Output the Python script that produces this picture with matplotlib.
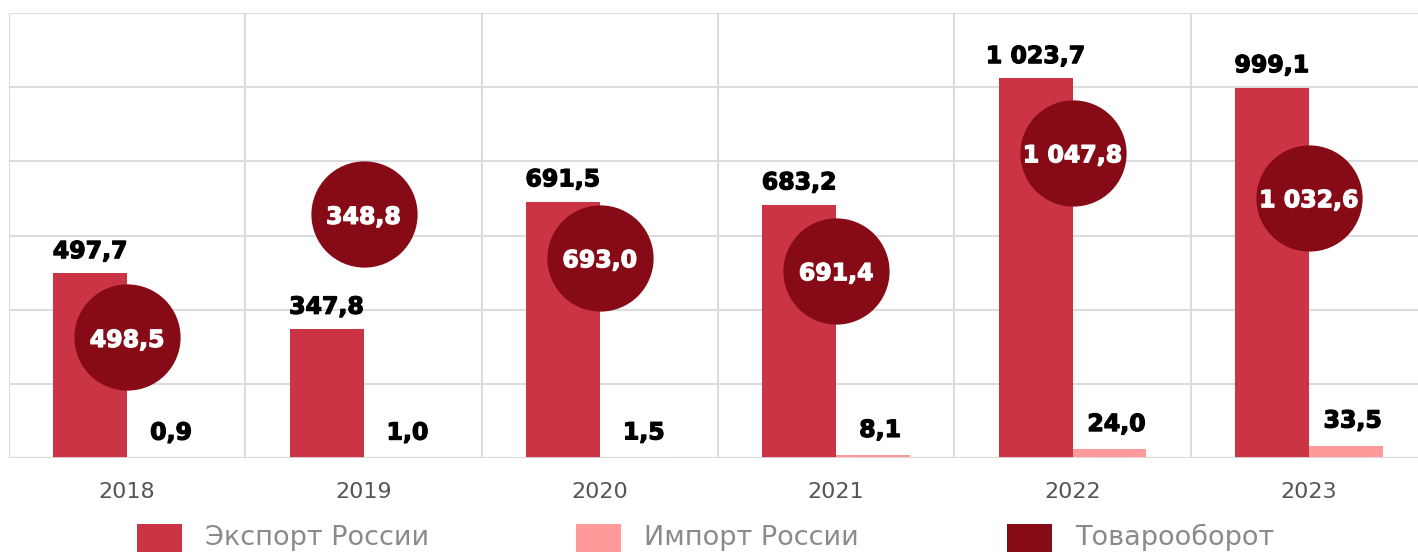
import matplotlib
matplotlib.use("Agg")
import matplotlib.pyplot as plt
import matplotlib.patheffects as pe
from matplotlib.patches import Rectangle
import numpy as np

# ---- data ----
years = ["2018", "2019", "2020", "2021", "2022", "2023"]
export_vals = [497.7, 347.8, 691.5, 683.2, 1023.7, 999.1]
import_vals = [0.9, 1.0, 1.5, 8.1, 24.0, 33.5]
turnover_vals = [498.5, 348.8, 693.0, 691.4, 1047.8, 1032.6]
series_names = ["Экспорт России", "Импорт России", "Товарооборот"]

# ---- layout / style (not data) ----
bubble_y = [325, 657, 540, 505, 823, 702]   # vertical placement of bubbles (axis units)
c_export = "#CB3445"
c_import = "#FF9A9A"
c_turn = "#860B16"
c_grid = "#DCDCDC"

def fmt(v):
    s = f"{v:,.1f}".replace(",", " ").replace(".", ",")
    return s

W, H = 1418, 552
fig = plt.figure(figsize=(W / 100, H / 100), dpi=100)
plt.rcParams['font.family'] = ['DejaVu Sans']

left_px, right_px, top_px, bottom_px = 9, 1427, 13, 458
ax = fig.add_axes([left_px / W, (H - bottom_px) / H,
                   (right_px - left_px) / W, (bottom_px - top_px) / H])

x = np.arange(len(years))
bw = 0.313
ax.bar(x - bw / 2, export_vals, width=bw, color=c_export, zorder=3)
ax.bar(x + bw / 2, import_vals, width=bw, color=c_import, zorder=3)
ax.scatter(x, bubble_y, s=5850, color=c_turn, zorder=5, linewidths=0)

heavy_k = [pe.withStroke(linewidth=0.9, foreground="black")]
heavy_w = [pe.withStroke(linewidth=0.9, foreground="white")]
for i in range(len(years)):
    ax.annotate(fmt(export_vals[i]), (x[i] - bw / 2, export_vals[i]),
                xytext=(0, 11), textcoords="offset points", ha="center",
                va="baseline", fontsize=17, fontweight="bold", color="black",
                zorder=6, path_effects=heavy_k)
    ax.annotate(fmt(import_vals[i]), (x[i] + bw / 2, import_vals[i]),
                xytext=(5, 13), textcoords="offset points", ha="center",
                va="baseline", fontsize=17, fontweight="bold", color="black",
                zorder=6, path_effects=heavy_k)
    ax.text(x[i], bubble_y[i], fmt(turnover_vals[i]), ha="center", va="center_baseline",
            fontsize=17, fontweight="bold", color="white", zorder=7, path_effects=heavy_w)

ax.set_xlim(-0.5, len(years) - 0.5)
ax.set_ylim(0, 1200)
ax.set_yticks(np.arange(0, 1201, 200))
ax.set_yticklabels([])
ax.tick_params(axis="y", length=0)
ax.set_xticks(x)
ax.set_xticklabels(years, fontsize=16, color="#555555")
ax.set_xticks(np.arange(-0.5, len(years), 1.0), minor=True)
ax.tick_params(axis="x", which="both", length=0, pad=17)
ax.grid(axis="y", which="major", color=c_grid, linewidth=1.5, zorder=0)
ax.grid(axis="x", which="minor", color=c_grid, linewidth=1.5, zorder=0)
ax.grid(axis="x", which="major", visible=False)
for sp in ax.spines.values():
    sp.set_visible(False)
ax.axhline(0, color=c_grid, linewidth=2, zorder=4)

# ---- legend (manual, bottom) ----
leg_colors = [c_export, c_import, c_turn]
leg_sq_x = [137, 576, 1007]
sq = 45
for name, col, sx in zip(series_names, leg_colors, leg_sq_x):
    fig.add_artist(Rectangle((sx / W, (H - 524 - sq) / H), sq / W, sq / H,
                             transform=fig.transFigure, color=col, linewidth=0))
    fig.text((sx + sq + 23) / W, (H - 545) / H, name, fontsize=19.5,
             color="#8A8A8A", ha="left", va="baseline")

fig.savefig("out.png", dpi=100)
